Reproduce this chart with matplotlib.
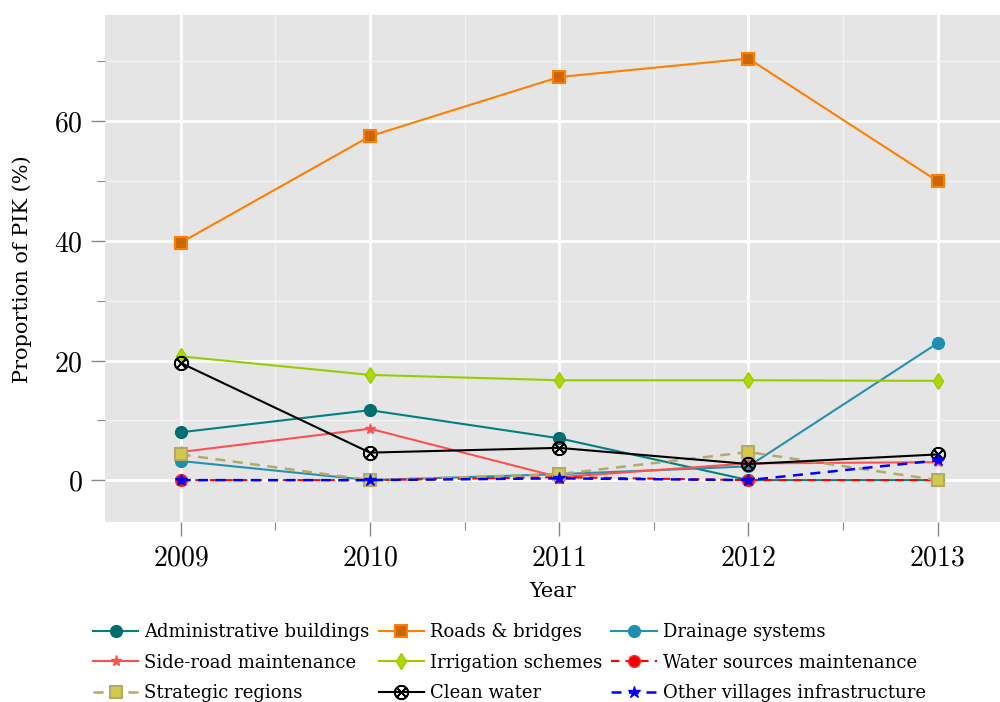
import matplotlib
matplotlib.use("Agg")
import matplotlib.pyplot as plt
from matplotlib.ticker import MultipleLocator

years = [2009, 2010, 2011, 2012, 2013]
admin = [8.0, 11.7, 7.0, 0.0, 0.0]
roads = [39.7, 57.5, 67.4, 70.5, 50.0]
drainage = [3.2, 0.0, 1.0, 2.3, 22.9]
sideroad = [4.7, 8.6, 0.5, 2.8, 3.0]
irrigation = [20.7, 17.6, 16.7, 16.7, 16.6]
watersrc = [0.0, 0.0, 0.5, 0.0, 0.0]
strategic = [4.3, 0.0, 1.0, 4.7, 0.0]
cleanwater = [19.6, 4.6, 5.4, 2.7, 4.3]
othervill = [0.0, 0.0, 0.3, 0.0, 3.3]
xtick_labels = ["2009", "2010", "2011", "2012", "2013"]
ytick_vals = [0, 20, 40, 60]

plt.rcParams['mathtext.fontset'] = 'cm'
plt.rcParams['font.family'] = ['DejaVu Serif']

fig = plt.figure(figsize=(10, 7.02), dpi=100)
ax = fig.add_axes([0.105, 0.2564, 0.895, 0.7216])
ax.set_facecolor('#e5e5e5')
for s in ax.spines.values():
    s.set_visible(False)

lw = 1.5
ax.plot(years, admin, '-o', color='#008080', mfc='#006e6e', mec='#006e6e', ms=8.5, lw=lw, label='Administrative buildings')
ax.plot(years, roads, '-s', color='#ff8000', mfc='#cc6600', mec='#ff8000', mew=1.5, ms=8.5, lw=lw, label='Roads & bridges')
ax.plot(years, drainage, '-o', color='#2590b0', mfc='#1f8fb0', mec='#1f8fb0', ms=8.5, lw=lw, label='Drainage systems')
ax.plot(years, sideroad, '-*', color='#ff5050', mfc='#ff5050', mec='#ff5050', ms=8, lw=lw, label='Side-road maintenance')
ax.plot(years, irrigation, '-d', color='#99cc00', mfc='#b0d800', mec='#99cc00', ms=8, lw=lw, label='Irrigation schemes')
ax.plot(years, watersrc, '--o', color='#ff0000', mfc='#ee0000', mec='#ff3030', ms=8.5, lw=lw, label='Water sources maintenance', dashes=(4, 3))
ax.plot(years, strategic, '--s', color='#b5a96a', mfc='#d4c84a', mec='#b5a96a', mew=1.5, ms=9, lw=lw + 0.3, label='Strategic regions', dashes=(4, 3))
ax.plot(years, cleanwater, '-', color='black', marker=r'$\otimes$', ms=10, mew=1.0, lw=lw, label='Clean water')
ax.plot(years, othervill, '--*', color='#0000ff', mfc='#0000ff', mec='#0000ff', ms=9, lw=lw + 0.3, label='Other villages infrastructure', dashes=(4, 3))

ax.set_xlim(2008.6, 2013.33)
ax.set_ylim(-7, 77.7)
ax.set_xticks(years)
ax.set_xticklabels(['$' + t + '$' for t in xtick_labels])
ax.set_yticks(ytick_vals)
ax.set_yticklabels(['$' + str(v) + '$' for v in ytick_vals])
ax.xaxis.set_minor_locator(MultipleLocator(0.5))
ax.yaxis.set_minor_locator(MultipleLocator(10))
ax.tick_params(which='major', length=10, width=1, color='#888888', labelsize=20, pad=6)
ax.tick_params(which='minor', length=6, width=0.8, color='#888888')
ax.grid(which='major', color='white', lw=2)
ax.grid(which='minor', color='#f2f2f2', lw=1)
ax.set_axisbelow(True)

ax.set_xlabel('Year', fontsize=15, labelpad=8)
ax.set_ylabel('Proportion of PIK (%)', fontsize=15, labelpad=16)

handles, labels = ax.get_legend_handles_labels()
order = [0, 3, 6, 1, 4, 7, 2, 5, 8]
ax.legend([handles[i] for i in order], [labels[i] for i in order],
          loc='upper left', bbox_to_anchor=(0.093, 0.112), bbox_transform=fig.transFigure,
          ncol=3, frameon=False, fontsize=13, handlelength=2.5, handletextpad=0.35,
          columnspacing=0.5, labelspacing=0.68, borderaxespad=0, borderpad=0)

fig.savefig('out.png', dpi=100)
